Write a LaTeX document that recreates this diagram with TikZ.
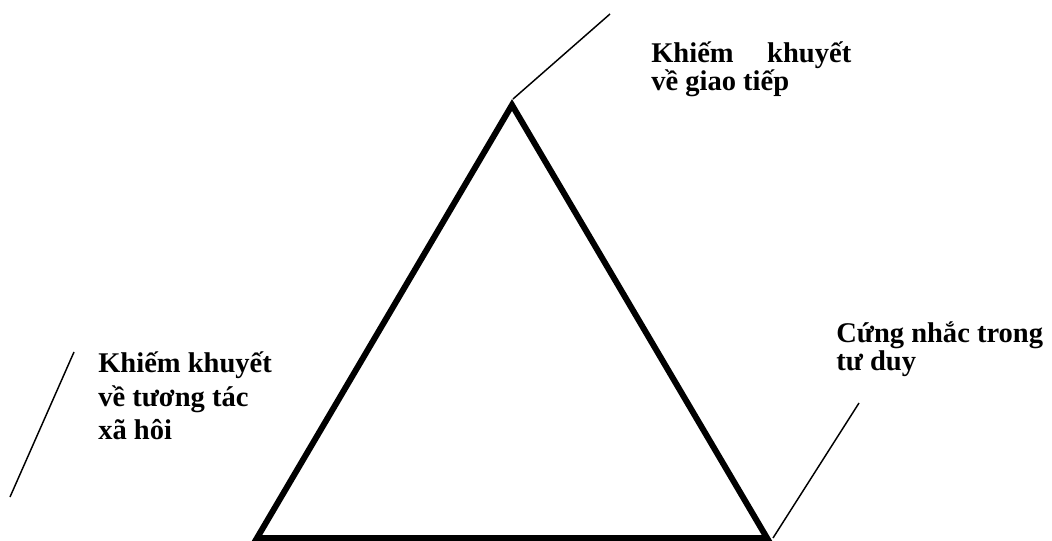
\documentclass[tikz,border=0pt]{standalone}
\usepackage{fontspec}
\setmainfont{Liberation Serif}
\begin{document}
\begin{tikzpicture}[x=0.75pt,y=-0.75pt,
  tri/.style={line width=4.5pt,line join=miter},
  leader/.style={line width=1.1pt},
  lbl/.style={inner sep=0pt,anchor=base west,font=\fontsize{21.4}{24.75}\selectfont\bfseries},
  tight/.style={font=\fontsize{21.4}{21}\selectfont\bfseries}]
\useasboundingbox (0,0) rectangle (1052,541);
% triangle corners
\coordinate (A) at (512,105);
\coordinate (B) at (257,538);
\coordinate (C) at (767,538);
\draw[tri] (A) -- (B) -- (C) -- cycle;
% leader line ends
\coordinate (t1) at (610,14);
\coordinate (l0) at (74,352);
\coordinate (l1) at (10,497);
\coordinate (r0) at (859,403);
\coordinate (r1) at (773,538);
\draw[leader] (A) ++(1,-6) coordinate (a1) -- (t1);
\draw[leader] (l0) -- (l1);
\draw[leader] (r0) -- (r1);
% labels
\node[lbl,tight] (top) at (651,63) {\vtop{\hbox to 150pt{Khiếm\hfill khuyết}\hbox{về giao tiếp}}};
\node[lbl] (left) at (98,373) {\vtop{\hbox{Khiếm khuyết}\hbox{về tương tác}\hbox{xã hôi}}};
\node[lbl,tight] (right) at (836,342) {\vtop{\hbox{Cứng nhắc trong}\hbox{tư duy}}};
\end{tikzpicture}
\end{document}
